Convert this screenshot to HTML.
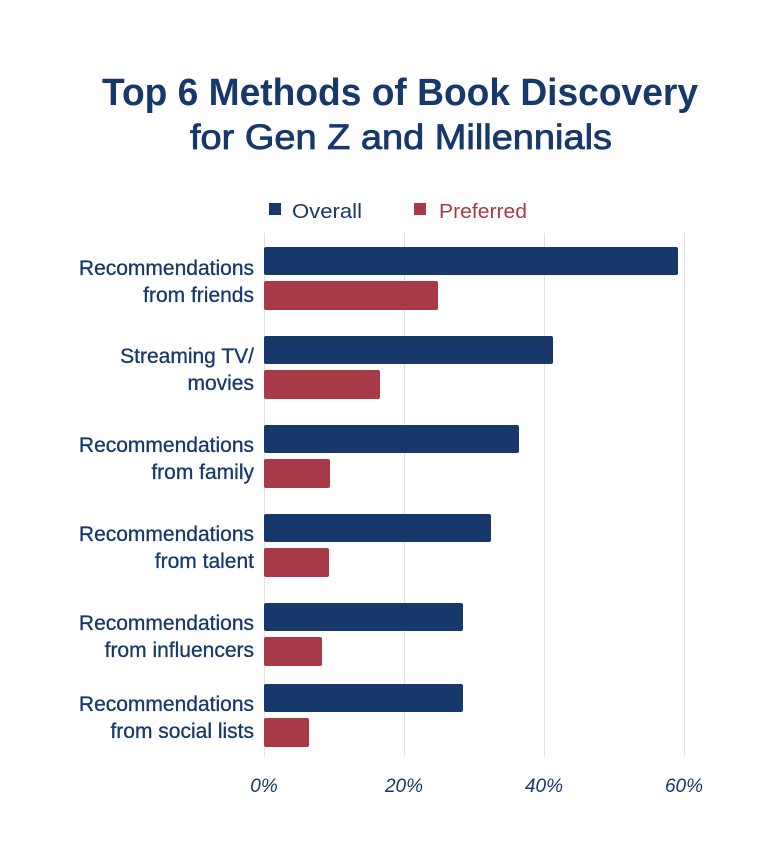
<!DOCTYPE html>
<html><head><style>body{margin:0;background:#fff}svg{display:block}</style></head>
<body>
<svg width="768" height="846" xmlns="http://www.w3.org/2000/svg" font-family="Liberation Sans, sans-serif">
<rect width="768" height="846" fill="#fff"/>
<text x="400" y="105" text-anchor="middle" font-size="38" font-weight="bold" fill="#16386a" textLength="596" lengthAdjust="spacingAndGlyphs">Top 6 Methods of Book Discovery</text>
<text x="401" y="149" text-anchor="middle" font-size="35" fill="#16386a" stroke="#16386a" stroke-width="0.8" textLength="422" lengthAdjust="spacingAndGlyphs">for Gen Z and Millennials</text>
<rect x="269" y="203" width="12" height="12" fill="#16386a"/>
<text x="292" y="218" font-size="20" fill="#16386a" textLength="70" lengthAdjust="spacingAndGlyphs">Overall</text>
<rect x="414" y="203" width="12" height="12" fill="#a83a48"/>
<text x="439" y="218" font-size="20" fill="#a83a48" textLength="88" lengthAdjust="spacingAndGlyphs">Preferred</text>
<g stroke="#e2e2e6" stroke-width="1">
<line x1="264.5" y1="233" x2="264.5" y2="756"/><line x1="404.5" y1="233" x2="404.5" y2="756"/>
<line x1="544.5" y1="233" x2="544.5" y2="756"/><line x1="684.5" y1="233" x2="684.5" y2="756"/>
</g>
<g fill="#16386a">
<rect x="264" y="247" width="414" height="28" rx="2"/>
<rect x="264" y="336" width="289" height="28" rx="2"/>
<rect x="264" y="425" width="255" height="28" rx="2"/>
<rect x="264" y="514" width="227" height="28" rx="2"/>
<rect x="264" y="603" width="199" height="28" rx="2"/>
<rect x="264" y="684" width="199" height="28" rx="2"/>
</g>
<g fill="#a83a48">
<rect x="264" y="281" width="174" height="29" rx="2"/>
<rect x="264" y="370" width="116" height="29" rx="2"/>
<rect x="264" y="459" width="66" height="29" rx="2"/>
<rect x="264" y="548" width="65" height="29" rx="2"/>
<rect x="264" y="637" width="58" height="29" rx="2"/>
<rect x="264" y="718" width="45" height="29" rx="2"/>
</g>
<g font-size="21" fill="#16386a" text-anchor="end" stroke="#16386a" stroke-width="0.3">
<text x="254" y="275">Recommendations</text><text x="254" y="302">from friends</text>
<text x="254" y="363">Streaming TV/</text><text x="254" y="390">movies</text>
<text x="254" y="452">Recommendations</text><text x="254" y="479">from family</text>
<text x="254" y="541">Recommendations</text><text x="254" y="568">from talent</text>
<text x="254" y="630">Recommendations</text><text x="254" y="657">from influencers</text>
<text x="254" y="711">Recommendations</text><text x="254" y="738">from social lists</text>
</g>
<g font-size="19" fill="#16386a" text-anchor="middle" font-style="italic">
<text x="264" y="792">0%</text><text x="404" y="792">20%</text><text x="544" y="792">40%</text><text x="684" y="792">60%</text>
</g>
</svg>
</body></html>
